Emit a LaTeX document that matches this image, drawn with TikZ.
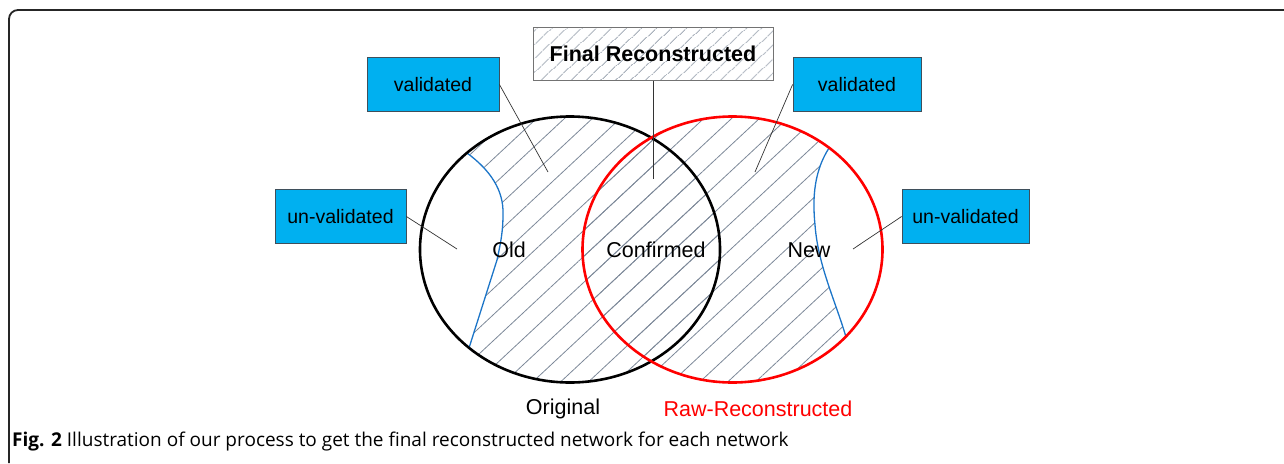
\documentclass[tikz,border=0pt]{standalone}
\usepackage{fontspec}
\setmainfont{Liberation Sans}
\newfontfamily\capfont{Open Sans}
\usetikzlibrary{patterns.meta}

\definecolor{boxcyan}{HTML}{00B0F0}
\definecolor{boxedge}{HTML}{3F4F5B}
\definecolor{hatchgray}{HTML}{7C8898}
\definecolor{curveblue}{HTML}{1C75C8}
\def\setrx{150pt}
\def\setry{133pt}

\begin{document}
\begin{tikzpicture}[x=1pt, y=-1pt,
  tag/.style={draw=boxedge, fill=boxcyan, line width=0.8pt, minimum height=54pt,
    inner sep=0pt, font=\fontsize{19.5}{22}\selectfont},
  setname/.style={font=\fontsize{21.5}{24}\selectfont, inner sep=0pt},
  lead/.style={draw=black!80, line width=0.7pt},
  hatch/.style={pattern={Lines[angle=43, distance=19pt, line width=0.8pt]}, pattern color=hatchgray},
  ring/.style={line width=2.6pt}]
\useasboundingbox (0,0) rectangle (1284,463);

% page frame
\draw[black!85, line width=1.8pt, rounded corners=9pt] (9,463) -- (9,10) -- (1284,10);

% hatched part: both sets, cut by the two blue borders
\begin{scope}
\clip (467,153) .. controls (490,170) and (504,190) .. (503,215)
  .. controls (503,235) and (499,250) .. (497,260) -- (469,348) -- (440,420) -- (880,420)
  -- (846,337) .. controls (835,300) and (818,265) .. (815,225)
  .. controls (812,195) and (815,170) .. (829,148) -- (860,90) -- (440,90) -- cycle;
\fill[hatch] (570,249.5) ellipse [x radius=\setrx, y radius=\setry];
\fill[hatch] (732.5,249.5) ellipse [x radius=\setrx, y radius=\setry];
\end{scope}

\draw[curveblue, line width=1.3pt] (467,153) .. controls (490,170) and (504,190) .. (503,215)
  .. controls (503,235) and (499,250) .. (497,260) -- (469,348); % old side
\draw[curveblue, line width=1.3pt] (829,148) .. controls (815,170) and (812,195) .. (815,225)
  .. controls (818,265) and (835,300) .. (846,337); % new side

\draw[ring] (570,249.5) ellipse [x radius=\setrx, y radius=\setry]; % original
\draw[ring, red] (732.5,249.5) ellipse [x radius=\setrx, y radius=\setry]; % raw

\node[setname] (old) at (509,250) {Old};
\node[setname] (confirmed) at (656,250) {Confirmed};
\node[setname] (new) at (809,250) {New};
\node[setname] (original) at (563,409) {Original};
\node[setname, text=red] (raw) at (758,409) {Raw-Reconstructed};

% call-out boxes
\node[tag, minimum width=132pt] (valOld) at (433,84.5) {validated};
\node[tag, minimum width=128pt] (valNew) at (857,84.5) {validated};
\node[tag, minimum width=131pt] (unvOld) at (340.5,216.5) {un-validated};
\node[tag, minimum width=127pt] (unvNew) at (965.5,216.5) {un-validated};
\node[draw=black!55, line width=0.8pt, preaction={fill=white},
  pattern={Lines[angle=43, distance=10.5pt, line width=0.7pt]}, pattern color=hatchgray,
  minimum width=240pt, minimum height=53pt, inner sep=0pt,
  font=\bfseries\fontsize{21.5}{24}\selectfont] (final) at (653,54) {Final Reconstructed};

\coordinate (tipValOld) at (548,172);
\coordinate (tipFinal) at (653,179);
\coordinate (tipValNew) at (755,172);
\coordinate (tipUnvOld) at (457,249);
\coordinate (tipUnvNew) at (853,249);

\draw[lead] (valOld.east) -- (tipValOld);
\draw[lead] (final.south) -- (tipFinal);
\draw[lead] (valNew.west) -- (tipValNew);
\draw[lead] (unvOld.east) -- (tipUnvOld);
\draw[lead] (unvNew.west) -- (tipUnvNew);

\node[anchor=west, inner sep=0pt, font=\capfont\fontsize{19}{22}\selectfont] (caption) at (12,442)
  {\textbf{Fig. 2} Illustration of our process to get the final reconstructed network for each network};
\end{tikzpicture}
\end{document}
